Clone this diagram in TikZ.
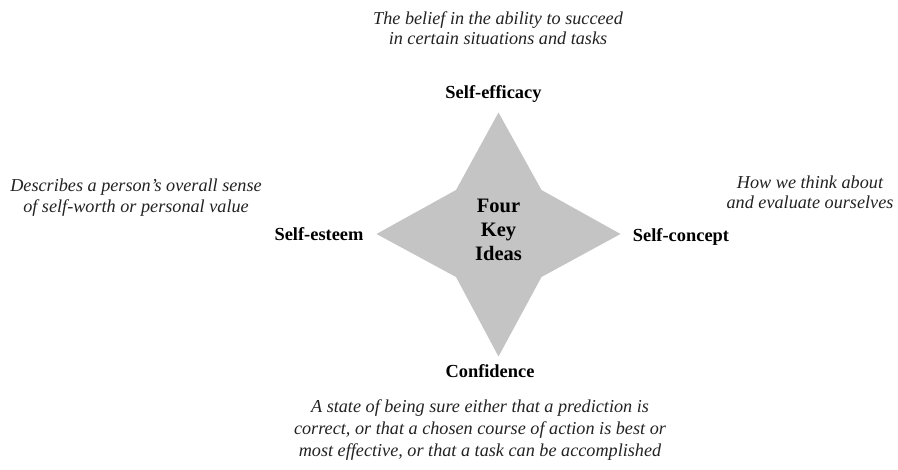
\documentclass[tikz,border=0pt]{standalone}
\usepackage{fontspec}
\setmainfont{Liberation Serif}
\definecolor{starfill}{RGB}{196,196,196}
\definecolor{desctext}{RGB}{34,34,34}
\begin{document}
\begin{tikzpicture}[x=1pt,y=-1pt,
  lbl/.style={font=\fontsize{18.4}{22}\selectfont\bfseries, anchor=base, inner sep=0pt, text=black},
  desc/.style={font=\fontsize{18.2}{20.5}\selectfont\itshape, align=center, anchor=base, inner sep=0pt, text=desctext},
  core/.style={font=\fontsize{20.5}{24}\selectfont\bfseries, align=center, anchor=base, inner sep=0pt, text=black},
]
\useasboundingbox (0,0) rectangle (898,470);
\fill[starfill] (498.5,112.5) coordinate (ptop) -- (541.5,190) -- (620.5,234) coordinate (pright) -- (541.5,277) -- (498.5,356.5) coordinate (pbottom) -- (456,277) -- (376.5,234) coordinate (pleft) -- (456,190) -- cycle;
\node[core] (center) at (498.5,260.7) {Four\\Key\\Ideas};
\node[lbl] (efficacy) at (493.5,99) {Self-efficacy};
\node[lbl] (esteem) at (319,241) {Self-esteem};
\node[lbl] (concept) at (681,241.5) {Self-concept};
\node[lbl] (confidence) at (490,378) {Confidence};
\node[desc] (dtop) at (498,45) {The belief in the ability to succeed\\in certain situations and tasks};
\node[desc] (dleft) at (136,212.5) {Describes a person’s overall sense\\of self-worth or personal value};
\node[desc] (dright) at (810,209) {How we think about\\and evaluate ourselves};
\node[desc, font=\fontsize{18.2}{21.7}\selectfont\itshape] (dbottom) at (480,456.4) {A state of being sure either that a prediction is\\correct, or that a chosen course of action is best or\\most effective, or that a task can be accomplished};
\end{tikzpicture}
\end{document}
